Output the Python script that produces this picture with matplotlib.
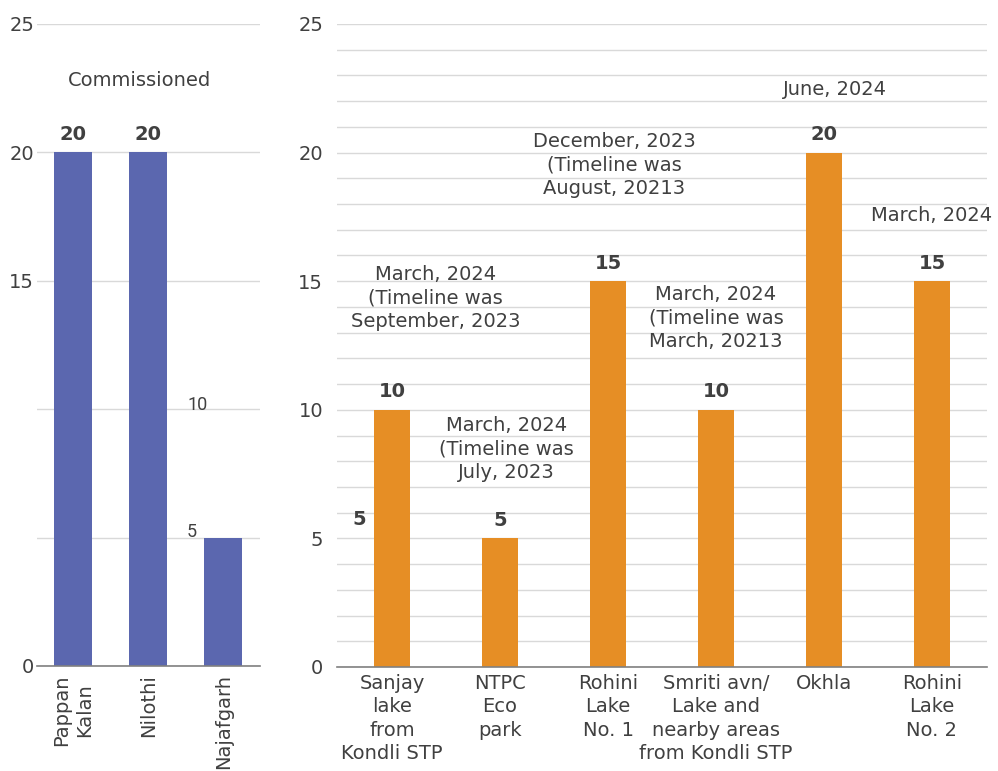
import matplotlib
matplotlib.use("Agg")
import matplotlib.pyplot as plt

plt.rcParams['font.family'] = ['DejaVu Sans']

# commissioned plants
done_names = ['Pappan\nKalan', 'Nilothi', 'Najafgarh']
done_vals = [20, 20, 5]

# plants still pending, with completion dates
todo_names = ['Sanjay\nlake\nfrom\nKondli STP', 'NTPC\nEco\npark', 'Rohini\nLake\nNo. 1',
              'Smriti avn/\nLake and\nnearby areas\nfrom Kondli STP', 'Okhla', 'Rohini\nLake\nNo. 2']
todo_vals = [10, 5, 15, 10, 20, 15]
todo_notes = ['March, 2024\n(Timeline was\nSeptember, 2023',
              'March, 2024\n(Timeline was\nJuly, 2023',
              'December, 2023\n(Timeline was\nAugust, 20213',
              'March, 2024\n(Timeline was\nMarch, 20213',
              'June, 2024',
              'March, 2024']
note_x = [0.4, 1.06, 2.06, 3.0, 4.1, 5.0]
note_y = [14.35, 8.48, 19.5, 13.57, 22.47, 17.57]

blue = '#5b67af'
orange = '#e68e25'
txt = '#404040'
grid = '#d9d9d9'
fs = 14

fig = plt.figure(figsize=(9.98, 7.71), dpi=100)
ax1 = fig.add_axes([0.0371, 0.1362, 0.2234, 0.8327])
ax2 = fig.add_axes([0.3377, 0.1349, 0.6513, 0.8340])

for ax in (ax1, ax2):
    ax.set_ylim(0, 25)
    for s in ['top', 'right', 'left']:
        ax.spines[s].set_visible(False)
    ax.spines['bottom'].set_color('#808080')
    ax.spines['bottom'].set_linewidth(1.2)
    ax.tick_params(length=0, labelsize=fs, labelcolor=txt)
    ax.set_axisbelow(True)

# left panel
x1 = range(len(done_vals))
ax1.bar(x1, done_vals, width=0.5, color=blue)
ax1.set_xlim(-0.48, 2.49)
ax1.set_yticks([0, 5, 10, 15, 20, 25])
ax1.set_yticklabels(['0', '', '', '15', '20', '25'])
ax1.tick_params(axis='y', pad=2)
ax1.grid(axis='y', color=grid, linewidth=1)
ax1.set_xticks(list(x1))
ax1.set_xticklabels(done_names, rotation=90, va='top', ha='center', fontsize=fs,
                    linespacing=1.25)
ax1.tick_params(axis='x', pad=6)
for i, v in zip(x1, done_vals):
    if v >= 20:
        ax1.annotate(str(v), (i, v), xytext=(0, 6), textcoords='offset points',
                     ha='center', va='bottom', fontsize=14, fontweight='bold', color=txt)
ax1.text(0.89, 22.78, 'Commissioned', ha='center', va='center', fontsize=fs, color=txt)
ax1.text(1.52, 10.15, '10', ha='left', va='center', fontsize=13, color=txt,
         family='Roboto', fontstretch='condensed')
ax1.text(1.52, 5.2, '5', ha='left', va='center', fontsize=13, color=txt,
         family='Roboto', fontstretch='condensed')

# right panel
x2 = range(len(todo_vals))
ax2.bar(x2, todo_vals, width=0.33, color=orange)
ax2.set_xlim(-0.51, 5.51)
ax2.set_yticks([0, 5, 10, 15, 20, 25])
ax2.set_yticks(range(0, 26), minor=True)
ax2.tick_params(axis='y', which='both', length=0, pad=10)
ax2.grid(axis='y', which='both', color=grid, linewidth=1)
ax2.set_xticks(list(x2))
ax2.set_xticklabels(todo_names, fontsize=fs, linespacing=1.3)
ax2.tick_params(axis='x', pad=5)
for i, v in zip(x2, todo_vals):
    ax2.annotate(str(v), (i, v), xytext=(0, 6), textcoords='offset points',
                 ha='center', va='bottom', fontsize=14, fontweight='bold', color=txt)
for xn, yn, note in zip(note_x, note_y, todo_notes):
    ax2.text(xn, yn, note, ha='center', va='center', fontsize=fs, color=txt,
             linespacing=1.3, clip_on=False)
ax2.text(-0.3, 5.75, '5', ha='center', va='center', fontsize=14, fontweight='bold', color=txt)

fig.savefig('out.png', dpi=100)
